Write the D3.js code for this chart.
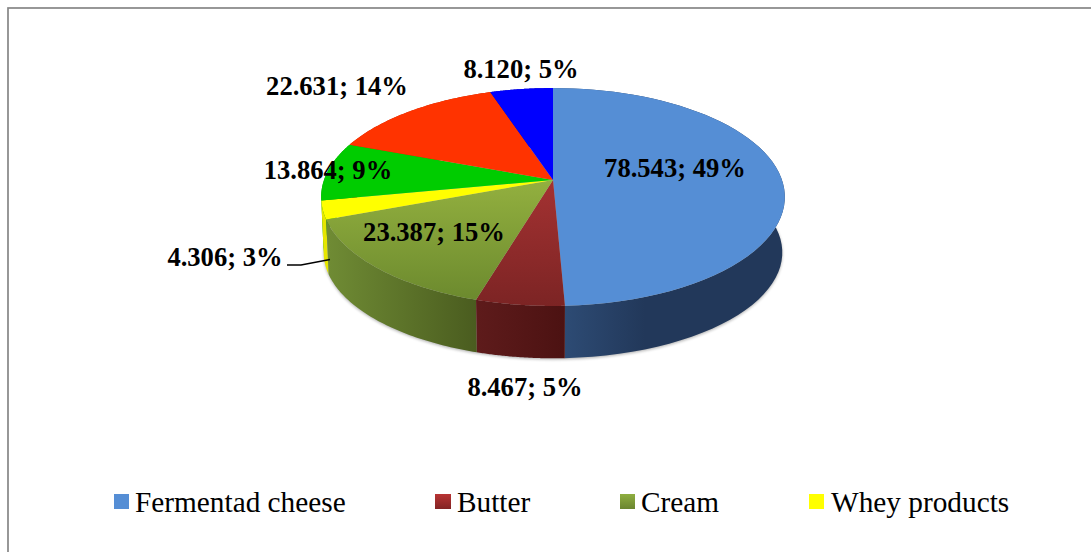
<!DOCTYPE html>
<html>
<head>
<meta charset="utf-8">
<script src="https://cdn.jsdelivr.net/npm/d3@7/dist/d3.min.js"></script>
<style>
html,body{margin:0;padding:0;background:#fff;overflow:hidden}
svg{display:block}
text{font-family:"Liberation Serif","Times New Roman",serif;fill:#000}
</style>
</head>
<body>
<svg id="chart" width="1091" height="552"></svg>
<script>
// Dairy output by product, in thousand tonnes
const sliceValues = [78.543, 8.467, 23.387, 4.306, 13.864, 22.631, 8.120];
const legendNames = ["Fermentad cheese", "Butter", "Cream", "Whey products"];

// Slice paints: top face [upper, lower] and wall [left, right]
const topColors = [["#558ed5","#558ed5"],["#a43232","#7c2424"],["#93b03f","#6c8a2e"],["#ffff00","#ffff00"],["#00cc00","#00cc00"],["#ff3300","#ff3300"],["#0000ff","#0000ff"]];
const wallColors = [["#2f4e78","#22385a"],["#5e1b1b","#4c1212"],["#6f8b34","#4a5c1f"],["#e6e600","#e6e600"],["#009900","#009900"],["#bb2500","#bb2500"],["#0000aa","#0000aa"]];

// Label anchors: text centre and baseline
const labelAnchors = [[675,177],[525,396],[434,241],[225,266],[328,179],[337,95],[521,78]];
const legendSwatchX = [114,435,620,809];
const legendTextX = [135,457,641,831];

const svg = d3.select("#chart");
const defs = svg.append("defs");
defs.append("filter").attr("id","soft").attr("x","-5%").attr("y","-5%").attr("width","110%").attr("height","115%")
  .append("feGaussianBlur").attr("stdDeviation",1.6);

// Chart frame, running past the right and bottom edges
svg.append("rect").attr("x",8).attr("y",8).attr("width",1200).attr("height",700)
  .attr("fill","#fff").attr("stroke","#868686").attr("stroke-width",1.7);

// Tilted disc: a circle seen in perspective, near edge towards the bottom
const tilt = 0.156;
const disc = {cx:553, cy:180, rx:229, ry:106.3};
const base = {cx:553, cy:236, rx:226.5, ry:103.2};
const project = (ring, angle, r = 1) => {
  const u = Math.sin(angle)*r, v = -Math.cos(angle)*r, w = 1 - tilt*v;
  return [ring.cx + ring.rx*u/w, ring.cy + ring.ry*v/w];
};

const total = d3.sum(sliceValues);
const pie = d3.pie().sort(null).value(d => d);
const arcs = pie(sliceValues);
const line = d3.line();
const sampleAngles = a => d3.range(0, 61).map(i => a.startAngle + (a.endAngle - a.startAngle)*i/60);
const rim = (ring, a) => sampleAngles(a).map(t => project(ring, t));
const wallPts = a => rim(disc, a).concat(rim(base, a).reverse());
const facePts = a => [project(disc, 0, 0)].concat(rim(disc, a));

arcs.forEach((a,i) => {
  const xs = rim(base, a).map(p => p[0]);
  const wg = defs.append("linearGradient").attr("id","wall"+i).attr("gradientUnits","userSpaceOnUse")
    .attr("x1",d3.min(xs)).attr("x2",d3.max(xs)).attr("y1",0).attr("y2",0);
  wg.append("stop").attr("offset",0).attr("stop-color",wallColors[i][0]);
  wg.append("stop").attr("offset",i===0?0.4:1).attr("stop-color",wallColors[i][1]);
  const ys = facePts(a).map(p => p[1]);
  const tg = defs.append("linearGradient").attr("id","top"+i).attr("gradientUnits","userSpaceOnUse")
    .attr("x1",0).attr("x2",0).attr("y1",d3.min(ys)).attr("y2",d3.max(ys));
  tg.append("stop").attr("offset",0).attr("stop-color",topColors[i][0]);
  tg.append("stop").attr("offset",1).attr("stop-color",topColors[i][1]);
});

// Soft shadow below the disc
svg.append("path")
  .attr("d", line(d3.range(0,121).map(i => project({...base, cy:base.cy+1.2}, i/120*2*Math.PI))) + "Z")
  .attr("fill","#000").attr("opacity",0.3).attr("filter","url(#soft)");

// Walls painted far to near, then the top faces over them
const order = d3.range(arcs.length).sort((p,q) =>
  d3.ascending(-Math.cos((arcs[p].startAngle+arcs[p].endAngle)/2), -Math.cos((arcs[q].startAngle+arcs[q].endAngle)/2)));
svg.append("g").selectAll("path").data(order).join("path")
  .attr("d", i => line(wallPts(arcs[i])) + "Z")
  .attr("fill", i => `url(#wall${i})`);
svg.append("g").selectAll("path").data(arcs).join("path")
  .attr("d", a => line(facePts(a)) + "Z")
  .attr("fill", (a,i) => `url(#top${i})`);

// Leader line for the narrow whey slice
svg.append("path").attr("d", d3.line().curve(d3.curveLinear)([[287,265],[301,265],[330,259.5]]))
  .attr("fill","none").attr("stroke","#000").attr("stroke-width",1.3);

// Value and share labels
svg.append("g").selectAll("text").data(sliceValues).join("text")
  .attr("x",(d,i) => labelAnchors[i][0]).attr("y",(d,i) => labelAnchors[i][1])
  .attr("text-anchor","middle").attr("font-size",26.6).attr("font-weight","bold")
  .text(d => `${d.toFixed(3)}; ${d3.format(".0%")(d/total)}`);

// Legend
const legend = svg.append("g");
legendNames.forEach((name,i) => {
  const g = defs.append("linearGradient").attr("id","key"+i).attr("x1",0).attr("x2",0).attr("y1",0).attr("y2",1);
  g.append("stop").attr("offset",0).attr("stop-color",[ "#558ed5","#b83434","#8fae40","#ffff00"][i]);
  g.append("stop").attr("offset",1).attr("stop-color",[ "#558ed5","#822424","#6a8530","#ffff00"][i]);
  legend.append("rect").attr("x",legendSwatchX[i]).attr("y",494).attr("width",i===1?16:15).attr("height",15).attr("fill",`url(#key${i})`);
  legend.append("text").attr("x",legendTextX[i]).attr("y",512).attr("font-size",29.3).text(name);
});
</script>
</body>
</html>
